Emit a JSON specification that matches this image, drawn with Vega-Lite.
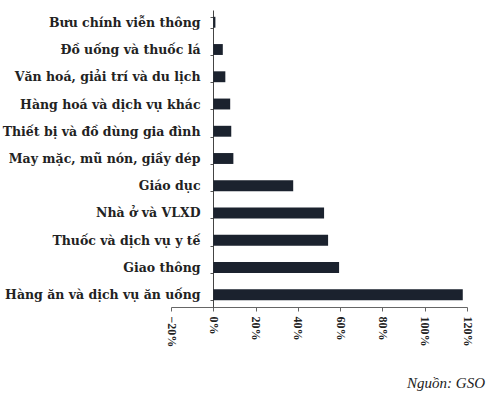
{
  "$schema": "https://vega.github.io/schema/vega-lite/v6.json",
  "autosize": {"type": "none"},
  "width": 296,
  "height": 297,
  "padding": {"left": 171, "top": 10, "right": 22, "bottom": 91},
  "background": "#ffffff",
  "title": {
    "text": "Nguồn: GSO",
    "orient": "bottom",
    "anchor": "end",
    "font": "Liberation Serif",
    "fontStyle": "italic",
    "fontWeight": "normal",
    "fontSize": 15,
    "color": "#222222",
    "offset": 29,
    "dx": 12
  },
  "data": {
    "values": [
      {"nhom": "Bưu chính viễn thông", "tang": 0.01},
      {"nhom": "Đồ uống và thuốc lá", "tang": 0.045},
      {"nhom": "Văn hoá, giải trí và du lịch", "tang": 0.057},
      {"nhom": "Hàng hoá và dịch vụ khác", "tang": 0.08},
      {"nhom": "Thiết bị và đồ dùng gia đình", "tang": 0.085},
      {"nhom": "May mặc, mũ nón, giầy dép", "tang": 0.095},
      {"nhom": "Giáo dục", "tang": 0.378},
      {"nhom": "Nhà ở và VLXD", "tang": 0.524},
      {"nhom": "Thuốc và dịch vụ y tế", "tang": 0.543},
      {"nhom": "Giao thông", "tang": 0.595},
      {"nhom": "Hàng ăn và dịch vụ ăn uống", "tang": 1.18}
    ]
  },
  "mark": {"type": "bar", "color": "#1b222e"},
  "encoding": {
    "y": {
      "field": "nhom",
      "type": "nominal",
      "sort": null,
      "scale": {"paddingInner": 0.6, "paddingOuter": 0.25},
      "axis": {
        "title": null,
        "offset": -42,
        "tickBand": "extent",
        "tickSize": 3,
        "tickColor": "#555555",
        "domainColor": "#444444",
        "labelFont": "DejaVu Serif",
        "labelFontSize": 12.5,
        "labelFontWeight": "bold",
        "labelColor": "#222222",
        "labelPadding": 10,
        "labelLimit": 300
      }
    },
    "x": {
      "field": "tang",
      "type": "quantitative",
      "scale": {"domain": [-0.2, 1.2], "nice": false, "zero": false},
      "axis": {
        "title": null,
        "values": [-0.2, 0, 0.2, 0.4, 0.6, 0.8, 1.0, 1.2],
        "format": ".0%",
        "labelAngle": 90,
        "grid": false,
        "tickSize": 4,
        "tickColor": "#666666",
        "domainColor": "#666666",
        "labelFont": "Liberation Serif",
        "labelFontSize": 12,
        "labelFontWeight": "bold",
        "labelColor": "#222222",
        "labelPadding": 5
      }
    }
  },
  "config": {"view": {"stroke": null}}
}
